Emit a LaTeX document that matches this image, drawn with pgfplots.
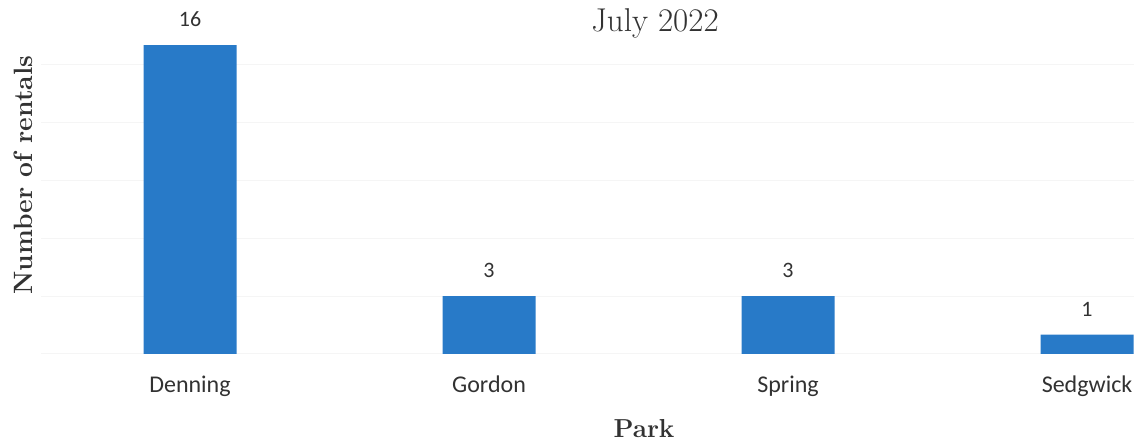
\documentclass[border=0pt]{standalone}
\usepackage{fontspec}
\usepackage{pgfplots}
\pgfplotsset{compat=1.18}
\newfontfamily\carlito{Carlito}
\definecolor{barblue}{RGB}{40,122,200}
\definecolor{txt}{RGB}{50,50,50}
\begin{document}
\begin{tikzpicture}
\useasboundingbox (0,0) rectangle (1134pt,443pt);
\begin{axis}[
  at={(40.5pt,89pt)}, anchor=south west,
  scale only axis, width=1093.5pt, height=318.5pt,
  xmin=-0.5, xmax=3.157, ymin=0, ymax=16.5,
  enlargelimits=false,
  /pgf/number format/assume math mode=true,
  axis line style={draw=none},
  major tick length=0pt,
  xtick={0,1,2,3}, xticklabels={Denning,Gordon,Spring,Sedgwick},
  xticklabel style={font=\carlito\fontsize{24}{28}\selectfont, text=txt, anchor=base, yshift=-39pt},
  ytick={0,3,6,9,12,15}, yticklabels={},
  ymajorgrids, grid style={black!4, line width=1pt},
  ybar, bar width=93pt,
  nodes near coords,
  every node near coord/.append style={font=\carlito\fontsize{22}{26}\selectfont, text=txt, inner sep=0pt, anchor=south, yshift=18pt},
  every axis title shift=0pt,
  title={July 2022},
  title style={font=\fontsize{33}{40}\selectfont, text=txt, at={(axis description cs:0.562,1.0173)}, anchor=base, yshift=-2pt},
  xlabel={\bfseries Park},
  xlabel style={font=\bfseries\fontsize{26}{30}\selectfont, text=txt, at={(axis description cs:0.5519,-0.2637)}, anchor=base},
  ylabel={\bfseries Number of rentals},
  ylabel style={font=\bfseries\fontsize{26.5}{30}\selectfont, text=txt, at={(axis description cs:-0.00713,0.562)}, anchor=base, rotate=0},
]
\addplot[fill=barblue, draw=none] coordinates {(0,16) (1,3) (2,3) (3,1)};
\end{axis}
\end{tikzpicture}
\end{document}
